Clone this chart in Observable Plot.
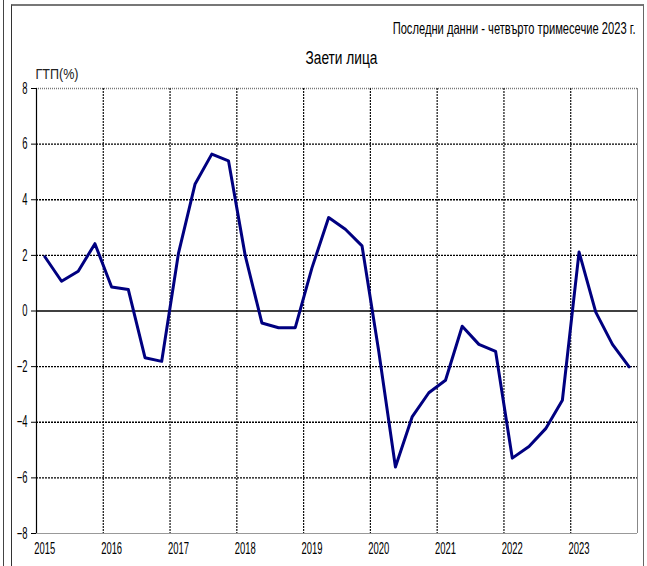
<!DOCTYPE html>
<html><head><meta charset="utf-8">
<script src="https://cdn.jsdelivr.net/npm/d3@7"></script>
<script src="https://cdn.jsdelivr.net/npm/@observablehq/plot@0.6"></script>
<style>
html,body{margin:0;padding:0;background:#fff;}
#wrap{position:relative;width:647px;height:566px;overflow:hidden;background:#fff;}
.deco{position:absolute;}
#chart{position:absolute;left:0;top:0;}
</style></head><body>
<div id="wrap">
  <div class="deco" style="left:3px;top:0;width:1px;height:566px;background:#444"></div>
  <div class="deco" style="left:11px;top:4px;width:633px;height:580px;border-left:1px solid #333;border-top:2px solid #777;border-right:1px solid #666;box-sizing:border-box"></div>
  <div id="chart"></div>
</div>
<script>
const years = [2015, 2016, 2017, 2018, 2019, 2020, 2021, 2022, 2023];
const quarters = ["I", "II", "III", "IV"];
const values = [
  1.95, 1.07, 1.43, 2.42,
  0.86, 0.77, -1.68, -1.81,
  2.06, 4.57, 5.64, 5.40,
  2.00, -0.43, -0.60, -0.60,
  1.55, 3.36, 2.94, 2.34,
  -1.45, -5.61, -3.81, -2.94,
  -2.49, -0.55, -1.20, -1.45,
  -5.29, -4.87, -4.23, -3.21,
  2.12, -0.04, -1.20, -2.01
];
const yTicks = [-8, -6, -4, -2, 0, 2, 4, 6, 8];
const titleText = "Заети лица";
const subtitleText = "Последни данни - четвърто тримесечие 2023 г.";
const yLabelText = "ГТП(%)";

const rows = values.map((v, i) => ({
  year: years[Math.floor(i / quarters.length)],
  quarter: quarters[i % quarters.length],
  pos: i + 0.5,
  value: v
}));
const nQ = values.length;
const boundaries = years.slice(1).map((y, i) => (i + 1) * quarters.length);
const yearLabels = years.map((y, i) => ({label: String(y), pos: i * quarters.length + 0.5}));

const font = "'Liberation Sans', Arial, sans-serif";

const chart = Plot.plot({
  width: 647, height: 566,
  marginLeft: 36, marginRight: 10, marginTop: 88, marginBottom: 33,
  style: {fontFamily: font, background: "transparent", overflow: "visible", color: "#000"},
  x: {domain: [0, nQ], axis: null},
  y: {domain: [-8, 8], axis: null},
  marks: [
    Plot.ruleY(yTicks.filter(t => t !== 0 && t !== -8 && t !== 8), {stroke: "#000", strokeDasharray: "2,1", strokeWidth: 1.4}),
    Plot.ruleY([8], {stroke: "#777", strokeDasharray: "1,1", strokeWidth: 1.3}),
    Plot.ruleX(boundaries, {stroke: "#111", strokeDasharray: "2,1", strokeWidth: 1.2}),
    Plot.ruleY([-8], {stroke: "#999", strokeWidth: 1.2}),
    Plot.ruleX([nQ], {stroke: "#888"}),
    Plot.ruleY([0], {stroke: "#000", strokeWidth: 1.4}),
    Plot.ruleX([0], {stroke: "#000", strokeWidth: 1.2}),
    Plot.axisY(yTicks, {tickSize: 5, tickPadding: 4, fontSize: 16, label: null, className: "ticklab"}),
    Plot.text(yearLabels, {x: "pos", text: "label", frameAnchor: "bottom", dy: 20, fontSize: 16, fill: "#000", className: "ticklab xlab"}),
    Plot.line(rows, {x: "pos", y: "value", stroke: "#000080", strokeWidth: 3}),
    Plot.text([subtitleText], {frameAnchor: "top-right", textAnchor: "end", dx: -2, dy: -66, fontSize: 16.5, fill: "#000", className: "subt"}),
    Plot.text([titleText], {frameAnchor: "top", dx: 4.5, dy: -38, fontSize: 19, fill: "#000", className: "titl"}),
    Plot.text([yLabelText], {frameAnchor: "top-left", textAnchor: "start", dx: -1, dy: -19, fontSize: 14, fill: "#222", className: "ylab"})
  ]
});
document.getElementById("chart").appendChild(chart);

function condense(el, f) {
  const x = parseFloat(el.getAttribute("x") || 0);
  const t = el.getAttribute("transform") || "";
  el.setAttribute("transform", `${t} translate(${x},0) scale(${f},1) translate(${-x},0)`);
}
function fitWidth(sel, target) {
  chart.querySelectorAll(sel + " text").forEach(el => {
    const len = el.getComputedTextLength();
    if (len > 0) condense(el, target / len);
  });
}
const sample = chart.querySelector(".xlab text");
const tickFactor = sample ? 21 / sample.getComputedTextLength() : 0.6;
chart.querySelectorAll(".ticklab text").forEach(el => condense(el, tickFactor));
fitWidth(".subt", 243);
fitWidth(".titl", 72);
fitWidth(".ylab", 43);
</script>
</body></html>
